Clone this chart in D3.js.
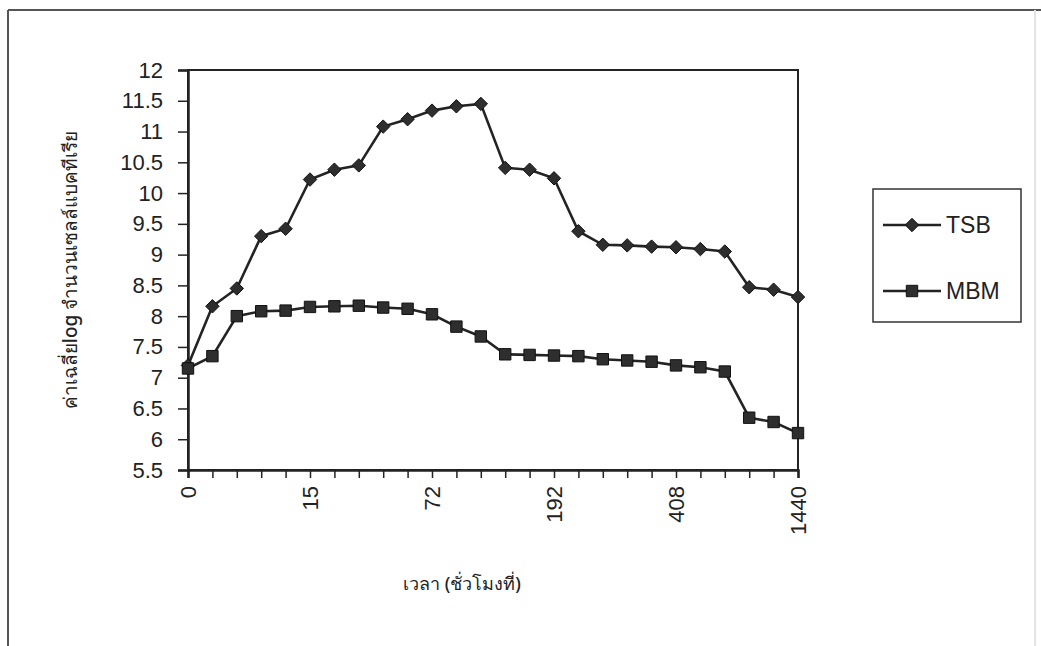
<!DOCTYPE html>
<html><head><meta charset="utf-8">
<script src="https://cdn.jsdelivr.net/npm/d3@7"></script>
<style>
html,body{margin:0;padding:0;background:#fff;}
svg text{font-family:"Liberation Sans","Arimo",sans-serif;fill:#222;}
</style></head><body>
<svg id="c" width="1041" height="646"></svg>
<script>
const categoryIndex = d3.range(26);
const tickIndex = [0, 5, 10, 15, 20, 25];
const tickLabels = ["0", "15", "72", "192", "408", "1440"];
const tsb = [7.2, 8.16, 8.45, 9.3, 9.42, 10.22, 10.38, 10.45, 11.08, 11.2, 11.34, 11.41, 11.45,
             10.41, 10.38, 10.24, 9.38, 9.16, 9.15, 9.13, 9.12, 9.09, 9.05, 8.47, 8.43, 8.31];
const mbm = [7.15, 7.35, 8.0, 8.08, 8.09, 8.15, 8.16, 8.17, 8.14, 8.12, 8.03, 7.83, 7.67,
             7.38, 7.37, 7.36, 7.35, 7.3, 7.28, 7.26, 7.2, 7.17, 7.1, 6.35, 6.28, 6.1];
const yTicks = d3.range(5.5, 12.01, 0.5);
const seriesNames = ["TSB", "MBM"];
const yTitle = "ค่าเฉลี่ยlog จำนวนเซลล์แบคทีเรีย";
const xTitle = "เวลา (ชั่วโมงที่)";

const svg = d3.select("#c");
const L = 188, R = 798, T = 70, B = 470;
const x = d3.scalePoint().domain(categoryIndex).range([L, R]);
const y = d3.scaleLinear().domain([5.5, 12]).range([B, T]);
const ink = "#232323";

// outer frame
svg.append("line").attr("x1",8).attr("x2",1041).attr("y1",10).attr("y2",10).attr("stroke","#555").attr("stroke-width",2);
svg.append("line").attr("x1",8).attr("x2",8).attr("y1",10).attr("y2",646).attr("stroke","#555").attr("stroke-width",2);
svg.append("line").attr("x1",1035).attr("x2",1035).attr("y1",10).attr("y2",646).attr("stroke","#e4e4e4").attr("stroke-width",2);

// plot border
svg.append("rect").attr("x",L).attr("y",T).attr("width",R-L).attr("height",B-T)
  .attr("fill","none").attr("stroke",ink).attr("stroke-width",2);

// y axis
const yAxis = svg.append("g").attr("transform",`translate(${L},0)`)
  .call(d3.axisLeft(y).tickValues(yTicks).tickSize(10).tickPadding(15).tickFormat(d3.format("~g")));
yAxis.attr("font-size",null).attr("font-family",null);
yAxis.select(".domain").attr("stroke",ink).attr("stroke-width",2.5);
yAxis.selectAll(".tick line").attr("stroke",ink).attr("stroke-width",1.5);
yAxis.selectAll("text").style("font-size","22px").attr("fill","#222");

// x axis
const xAxis = svg.append("g").attr("transform",`translate(0,${B})`)
  .call(d3.axisBottom(x).tickValues(categoryIndex).tickSize(8).tickFormat(d => {
    const i = tickIndex.indexOf(d); return i >= 0 ? tickLabels[i] : "";
  }));
xAxis.attr("font-size",null).attr("font-family",null);
xAxis.select(".domain").attr("stroke",ink).attr("stroke-width",2.5);
xAxis.selectAll(".tick line").attr("stroke",ink).attr("stroke-width",1.5);
xAxis.selectAll("text").style("font-size","22px").attr("fill","#222")
  .attr("transform","rotate(-90)").attr("text-anchor","end").attr("dy","0.36em")
  .attr("x",-16).attr("y",0);

// titles
svg.append("text").attr("transform","translate(77,270) rotate(-90)").attr("text-anchor","middle")
  .style("font-size","19px").style("font-weight","500")
  .style("font-family","'Noto Sans','DejaVu Sans',sans-serif").text(yTitle);
svg.append("text").attr("x",462).attr("y",590).attr("text-anchor","middle")
  .style("font-size","18px").style("font-weight","500")
  .style("font-family","'Noto Sans','DejaVu Sans',sans-serif").text(xTitle);

// lines
const line = d3.line().x((d,i) => x(i)).y(d => y(d));
const series = [tsb, mbm];
const symbols = [d3.symbolDiamond2, d3.symbolSquare];
const sizes = [115, 130];
series.forEach((s, k) => {
  svg.append("path").datum(s).attr("d", line).attr("fill","none").attr("stroke",ink).attr("stroke-width",2.6);
  svg.append("g").selectAll("path").data(s).join("path")
    .attr("transform",(d,i) => `translate(${x(i)},${y(d)})`)
    .attr("d", d3.symbol().type(symbols[k]).size(sizes[k]))
    .attr("fill","#2e2e2e").attr("stroke","#111").attr("stroke-width",1);
});

// legend
svg.append("rect").attr("x",873).attr("y",189).attr("width",148).attr("height",133)
  .attr("fill","#fff").attr("stroke","#333").attr("stroke-width",1.5);
const ly = [225, 291];
seriesNames.forEach((n,k) => {
  svg.append("line").attr("x1",883).attr("x2",941).attr("y1",ly[k]).attr("y2",ly[k]).attr("stroke",ink).attr("stroke-width",2.6);
  svg.append("path").attr("transform",`translate(912,${ly[k]})`)
    .attr("d", d3.symbol().type(symbols[k]).size(sizes[k])).attr("fill","#2e2e2e").attr("stroke","#111");
  svg.append("text").attr("x",946).attr("y",ly[k]).attr("dy","0.36em").style("font-size","23px").text(n);
});
</script>
</body></html>
